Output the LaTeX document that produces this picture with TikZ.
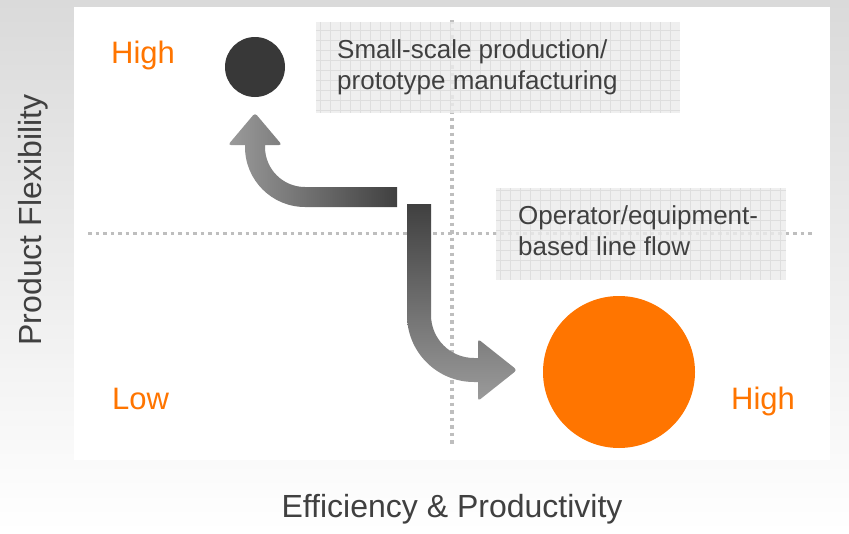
\documentclass[tikz,border=0pt]{standalone}
\usepackage{fontspec}
\setmainfont{Liberation Sans}
\definecolor{bgtop}{RGB}{218,218,218}
\definecolor{txt}{RGB}{64,64,64}
\definecolor{org}{RGB}{255,117,0}
\definecolor{darkc}{RGB}{56,56,56}
\definecolor{boxfill}{RGB}{236,236,236}
\definecolor{gridc}{RGB}{222,222,222}
\definecolor{dotc}{RGB}{190,190,190}
\definecolor{alight}{RGB}{155,155,155}
\definecolor{amidA}{RGB}{140,140,140}
\definecolor{amidB}{RGB}{128,128,128}
\definecolor{adark}{RGB}{64,64,64}
\begin{document}
\begin{tikzpicture}[x=1pt,y=-1pt,
  dotline/.style={dotc, line width=3.5pt, dash pattern=on 3.5pt off 4pt},
  notebox/.style={fill=boxfill, fill opacity=0.82},
  notegrid/.style={gridc, line width=0.8pt},
  notetext/.style={anchor=base west, text=txt, font=\fontsize{26}{31}\selectfont, inner sep=0pt},
  level/.style={anchor=base west, text=org, font=\fontsize{31}{36}\selectfont, inner sep=0pt},
  axislabel/.style={text=txt, font=\fontsize{32}{38}\selectfont, inner sep=0pt},
  blob/.style={circle, inner sep=0pt}]
\useasboundingbox (0,0) rectangle (849,533);
% background
\shade[top color=bgtop, bottom color=white] (0,0) rectangle (849,533);
\fill[white] (74,7) rectangle (830,460);
% dotted axes
\coordinate (hl) at (88,233.5);
\coordinate (hr) at (815,233.5);
\coordinate (vt) at (452,20);
\coordinate (vb) at (452,446);
\draw[dotline] (hl) -- (hr);
\draw[dotline] (vt) -- (vb);
% note boxes
\fill[notebox] (316,22) rectangle (680,113);
\foreach \gx in {320,330,...,670} \draw[notegrid] (\gx,22) -- (\gx,113);
\foreach \gy in {30,40,...,110} \draw[notegrid] (316,\gy) -- (680,\gy);
\fill[notebox] (496,188) rectangle (786,280);
\foreach \gx in {500,510,...,780} \draw[notegrid] (\gx,188) -- (\gx,280);
\foreach \gy in {190,200,...,270} \draw[notegrid] (496,\gy) -- (786,\gy);
\node[notetext] (n1a) at (337,58) {Small-scale production/};
\node[notetext] (n1b) at (337,89) {prototype manufacturing};
\node[notetext] (n2a) at (518,224) {Operator/equipment-};
\node[notetext] (n2b) at (518,255) {based line flow};
% arrows
\shade[left color=alight, middle color=amidA, right color=adark]
 (397,187) -- (305,187) arc[start angle=90, end angle=180, radius=40] -- (265,145)
 [rounded corners=3pt] -- (282,145) -- (255,113) -- (228,145) [sharp corners] -- (245,145)
 -- (245,147) arc[start angle=180, end angle=90, radius=60] -- (397,207) -- cycle;
\shade[top color=adark, middle color=amidB, bottom color=alight]
 (407,204) -- (407,315) arc[start angle=180, end angle=90, radius=67] -- (478,382)
 [rounded corners=3pt] -- (478,401) -- (517,370) -- (478,339) [sharp corners] -- (478,358)
 -- (474,358) arc[start angle=90, end angle=180, radius=43] -- (431,204) -- cycle;
% circles
\node[blob, fill=darkc, minimum size=60pt] (small) at (255,67) {};
\node[blob, fill=org, minimum size=152pt] (large) at (619,372) {};
% level labels
\node[level] (hi1) at (111,63) {High};
\node[level] (lo) at (112,409) {Low};
\node[level] (hi2) at (731,409) {High};
% axis labels
\node[axislabel, anchor=base] (xlab) at (452,517) {Efficiency \& Productivity};
\node[axislabel, rotate=90, anchor=base] (ylab) at (41,220) {Product Flexibility};
\end{tikzpicture}
\end{document}
